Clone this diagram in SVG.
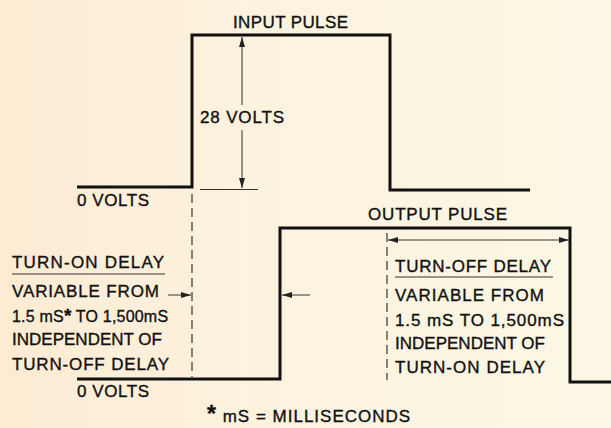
<svg xmlns="http://www.w3.org/2000/svg" width="611" height="428" viewBox="0 0 611 428">
<defs>
<linearGradient id="bg" x1="0" y1="0" x2="1" y2="0">
<stop offset="0" stop-color="#fdebd3"/>
<stop offset="0.45" stop-color="#fcf3df"/>
<stop offset="1" stop-color="#fcf7e4"/>
</linearGradient>
<marker id="ah" viewBox="0 0 10 6" refX="10" refY="3" markerWidth="10" markerHeight="6" markerUnits="userSpaceOnUse" orient="auto-start-reverse">
<path d="M0,0 L10,3 L0,6 Z" fill="#222"/>
</marker>
<style>
.pulse{fill:none;stroke:#111;stroke-width:3;stroke-linejoin:miter}
.thin{fill:none;stroke:#333;stroke-width:1}
.dash{fill:none;stroke:#333;stroke-width:1.2;stroke-dasharray:9 5}
text{font-family:"Liberation Sans",Arial,sans-serif;font-size:17px;fill:#111;stroke:#111;stroke-width:0.35;letter-spacing:1px}
text.tight{font-size:16px;letter-spacing:0.2px}
</style>
</defs>
<rect width="611" height="428" fill="url(#bg)"/>
<g id="connectors">
<path id="input-pulse" class="pulse" d="M77,187 H192 V35 H390 V190 H530"/>
<path id="output-pulse" class="pulse" d="M77,379 H280 V228 H570 V382 H611"/>
<line class="thin" x1="242" y1="37" x2="242" y2="105" marker-start="url(#ah)"/>
<line class="thin" x1="242" y1="130" x2="242" y2="188" marker-end="url(#ah)"/>
<line class="thin" x1="200" y1="189.5" x2="258" y2="189.5"/>
<line class="dash" x1="192" y1="194" x2="192" y2="377"/>
<line class="thin" x1="168" y1="295" x2="191" y2="295" marker-end="url(#ah)"/>
<line class="thin" x1="310" y1="295" x2="282" y2="295" marker-end="url(#ah)"/>
<line class="dash" x1="387" y1="233" x2="387" y2="380"/>
<line class="thin" x1="388" y1="240" x2="569" y2="240" marker-start="url(#ah)" marker-end="url(#ah)"/>
<line class="thin" x1="12" y1="274" x2="165" y2="274"/>
<line class="thin" x1="395" y1="277" x2="553" y2="277"/>
</g>
<g id="labels">
<text x="233" y="28" textLength="116">INPUT PULSE</text>
<text x="200" y="123" textLength="85">28 VOLTS</text>
<text x="77" y="206" textLength="73">0 VOLTS</text>
<text x="368" y="220" textLength="140">OUTPUT PULSE</text>
<text x="12" y="268" textLength="153">TURN-ON DELAY</text>
<text x="12" y="297" textLength="148">VARIABLE FROM</text>
<text class="tight" x="12" y="322"><tspan>1.5 mS</tspan><tspan font-size="19" font-weight="bold">*</tspan><tspan> TO 1,500mS</tspan></text>
<text x="12" y="345" textLength="151">INDEPENDENT OF</text>
<text x="12" y="370" textLength="158">TURN-OFF DELAY</text>
<text x="77" y="397" textLength="73">0 VOLTS</text>
<text x="395" y="272" textLength="157">TURN-OFF DELAY</text>
<text x="395" y="301" textLength="150">VARIABLE FROM</text>
<text x="395" y="326" textLength="170">1.5 mS  TO 1,500mS</text>
<text x="395" y="349" textLength="151">INDEPENDENT OF</text>
<text x="395" y="373" textLength="151">TURN-ON DELAY</text>
<text x="207" y="422"><tspan font-size="23" font-weight="bold">*</tspan><tspan> mS = MILLISECONDS</tspan></text>
</g>
</svg>
